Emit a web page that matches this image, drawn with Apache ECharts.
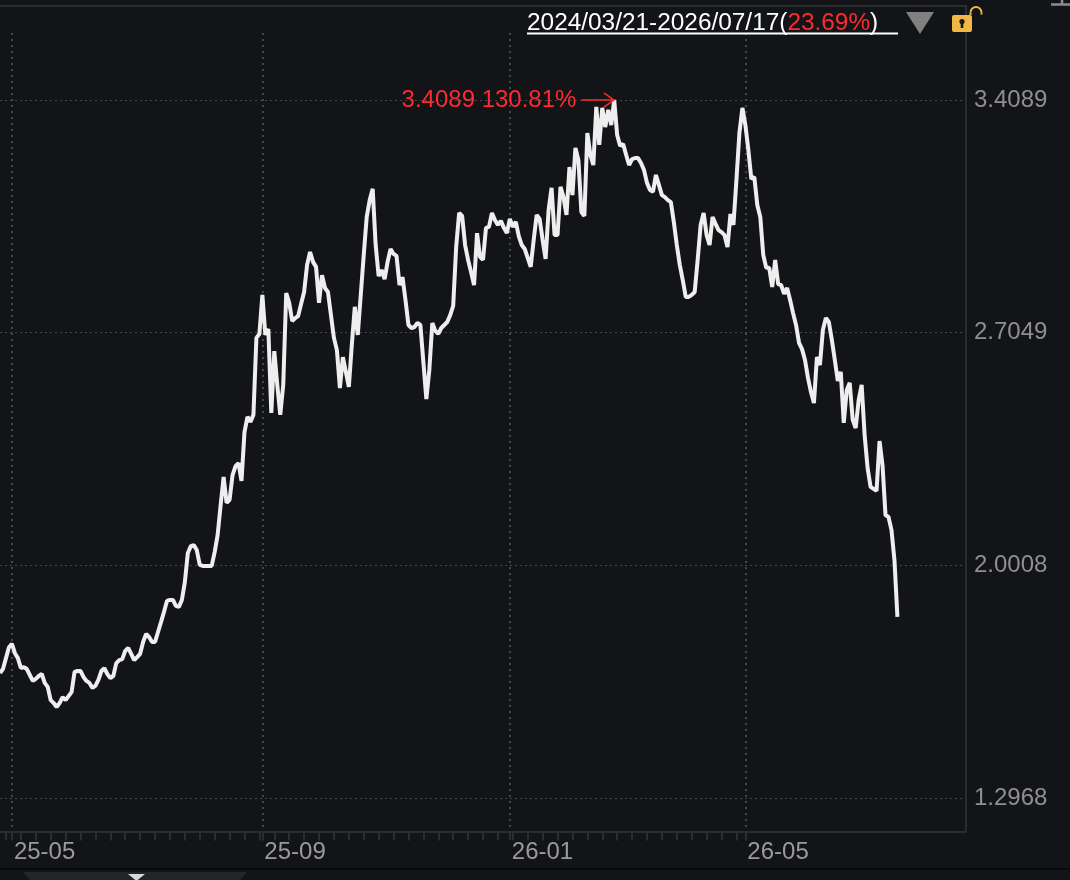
<!DOCTYPE html>
<html>
<head>
<meta charset="utf-8">
<style>html,body{margin:0;padding:0;background:#131417}#c{width:1070px;height:880px}</style>
<script src="https://cdn.jsdelivr.net/npm/echarts@6/dist/echarts.min.js"></script>
</head>
<body>
<div id="c"></div>
<script>
const prices = [
1.675,1.687,1.720,1.753,1.763,1.735,1.720,1.690,1.693,1.687,
1.669,1.651,1.657,1.666,1.672,1.645,1.633,1.593,1.584,1.572,
1.584,1.602,1.593,1.605,1.617,1.678,1.681,1.681,1.663,1.651,
1.645,1.630,1.636,1.654,1.681,1.690,1.672,1.660,1.666,1.705,
1.714,1.717,1.742,1.751,1.733,1.714,1.723,1.733,1.769,1.793,
1.784,1.769,1.769,1.799,1.829,1.860,1.893,1.896,1.896,1.878,
1.875,1.896,1.950,2.038,2.059,2.062,2.047,2.002,1.999,1.999,
1.999,1.999,2.041,2.093,2.183,2.268,2.190,2.199,2.274,2.301,
2.310,2.256,2.404,2.450,2.435,2.456,2.689,2.701,2.819,2.698,
2.716,2.462,2.649,2.547,2.456,2.547,2.825,2.795,2.740,2.749,
2.755,2.792,2.828,2.910,2.949,2.919,2.904,2.795,2.879,2.840,
2.828,2.758,2.689,2.652,2.537,2.631,2.586,2.541,2.668,2.783,
2.698,2.819,2.940,3.055,3.106,3.140,2.970,2.876,2.895,2.867,
2.919,2.958,2.943,2.937,2.849,2.873,2.804,2.728,2.719,2.722,
2.734,2.728,2.616,2.504,2.592,2.734,2.710,2.701,2.719,2.728,
2.737,2.758,2.786,2.964,3.067,3.058,2.970,2.925,2.888,2.849,
3.006,2.934,2.925,3.022,3.025,3.067,3.046,3.031,3.043,3.022,
3.006,3.049,3.025,3.040,2.997,2.970,2.958,2.931,2.904,2.985,
3.061,3.049,2.985,2.928,3.076,3.143,3.000,3.000,3.146,3.115,
3.061,3.206,3.121,3.264,3.227,3.070,3.058,3.309,3.243,3.212,
3.388,3.273,3.385,3.327,3.379,3.333,3.4089,3.303,3.270,3.276,
3.243,3.212,3.230,3.233,3.233,3.218,3.197,3.158,3.137,3.131,
3.182,3.152,3.121,3.115,3.106,3.100,3.040,2.970,2.910,2.864,
2.813,2.813,2.819,2.828,2.925,3.031,3.067,3.000,2.970,3.055,
3.034,3.015,3.009,3.000,2.964,3.064,3.031,3.167,3.309,3.385,
3.333,3.258,3.170,3.176,3.091,3.055,2.940,2.901,2.901,2.843,
2.925,2.852,2.849,2.822,2.840,2.804,2.764,2.728,2.674,2.655,
2.622,2.568,2.525,2.492,2.631,2.607,2.713,2.749,2.737,2.683,
2.622,2.559,2.586,2.432,2.531,2.553,2.441,2.416,2.501,2.547,
2.395,2.295,2.238,2.232,2.226,2.377,2.304,2.153,2.147,2.108,
2.017,1.845
];
const slotCount = 325;
const monthSlots = [4, 88, 171, 250];
const monthLabels = ['25-05', '25-09', '26-01', '26-05'];
const yTicks = [1.2968, 2.0008, 2.7049, 3.4089];
const peakSlot = 206;
const peakValue = 3.4089;
const peakText = '3.4089 130.81%';
const rangeText = '2024/03/21-2026/07/17(';
const rangePct = '23.69%';

const categories = [];
for (let i = 0; i < slotCount; i++) {
  const m = monthSlots.indexOf(i);
  categories.push(m >= 0 ? monthLabels[m] : String(i));
}
const isMonth = i => monthSlots.indexOf(i) >= 0;
const lastMonth = monthSlots[monthSlots.length - 1];
const FONT = '"Liberation Sans", Arial, sans-serif';
const BORDER = '#2b2c2e';
const DOT = '#45474b';

const chart = echarts.init(document.getElementById('c'), null, {renderer: 'canvas'});
chart.setOption({
  animation: false,
  backgroundColor: '#131417',
  grid: {left: 0, width: 966, top: 33, height: 798.5, containLabel: false},
  xAxis: {
    type: 'category',
    data: categories,
    boundaryGap: false,
    axisLine: {show: true, lineStyle: {color: BORDER, width: 2}},
    axisTick: {
      show: true, length: 9, inside: false,
      interval: i => (i % 5 === 2 && i < lastMonth) || isMonth(i),
      lineStyle: {color: BORDER, width: 2}
    },
    axisLabel: {
      show: true, interval: i => isMonth(i), hideOverlap: false,
      align: 'left', margin: 9, padding: [0, 0, 0, 2],
      color: '#9a9a9a', fontSize: 24, fontFamily: FONT
    },
    splitLine: {
      show: true, interval: i => isMonth(i),
      lineStyle: {color: DOT, type: [2, 4], width: 2}
    }
  },
  yAxis: {
    type: 'value',
    position: 'right',
    min: 1.1954,
    max: 3.6116,
    axisLine: {show: true, onZero: false, lineStyle: {color: BORDER, width: 2}},
    axisTick: {show: false, customValues: yTicks},
    axisLabel: {
      customValues: yTicks, margin: 8, color: '#8f8f8f', fontSize: 24, fontFamily: FONT,
      formatter: v => v.toFixed(4)
    },
    splitLine: {show: true, lineStyle: {color: DOT, type: [2, 3], width: 1}}
  },
  series: [{
    type: 'line',
    data: prices,
    symbol: 'none',
    smooth: false,
    lineStyle: {color: '#eeeeee', width: 4, join: 'bevel', cap: 'butt'},
    silent: true,
    markLine: {
      silent: true,
      animation: false,
      symbol: ['none', 'path://M0,0 L10,10 L9,11.5 L0,2.5 L-9,11.5 L-10,10 Z'],
      symbolSize: [15, 12],
      symbolOffset: [[0, 0], [0, 5]],
      lineStyle: {color: '#ff2a2f', width: 1.5, type: 'solid'},
      label: {
        show: true, position: 'start', distance: 5, formatter: peakText,
        color: '#ff2a2f', fontSize: 24, fontFamily: FONT
      },
      data: [[{coord: [peakSlot - 11, peakValue]}, {coord: [peakSlot, peakValue]}]]
    }
  }],
  graphic: [
    {type: 'line', z: 5, shape: {x1: 0, y1: 6, x2: 967, y2: 6}, style: {stroke: BORDER, lineWidth: 2}},
    {type: 'line', z: 5, shape: {x1: 966, y1: 6, x2: 966, y2: 33}, style: {stroke: BORDER, lineWidth: 2}},
    {type: 'text', z: 10, left: 527, top: 11, style: {
      rich: {
        w: {fill: '#ffffff', fontSize: 24.4, fontFamily: FONT},
        r: {fill: '#ff2a2f', fontSize: 24.4, fontFamily: FONT}
      },
      text: '{w|' + rangeText + '}{r|' + rangePct + '}{w|)}'
    }},
    {type: 'line', z: 10, shape: {x1: 527, y1: 33.5, x2: 898, y2: 33.5}, style: {stroke: '#ffffff', lineWidth: 2}},
    {type: 'polygon', z: 10, shape: {points: [[906, 12], [934, 12], [920, 34]]}, style: {fill: '#808080'}},
    {type: 'rect', z: 10, shape: {x: 952, y: 15, width: 20, height: 17, r: 2}, style: {fill: '#f1b845'}},
    {type: 'circle', z: 11, shape: {cx: 962, cy: 21.5, r: 2.6}, style: {fill: '#1a1a1a'}},
    {type: 'rect', z: 11, shape: {x: 960.7, y: 21.5, width: 2.6, height: 6.5}, style: {fill: '#1a1a1a'}},
    {type: 'arc', z: 10, shape: {cx: 976, cy: 12.5, r: 5.5, startAngle: Math.PI, endAngle: 0, clockwise: true},
      style: {stroke: '#f1b845', lineWidth: 2, fill: null}},
    {type: 'line', z: 10, shape: {x1: 970.5, y1: 12.5, x2: 970.5, y2: 15}, style: {stroke: '#f1b845', lineWidth: 2}},
    {type: 'line', z: 10, shape: {x1: 981.5, y1: 12.5, x2: 981.5, y2: 14.5}, style: {stroke: '#f1b845', lineWidth: 2}},
    {type: 'line', z: 5, shape: {x1: 1051, y1: 4.5, x2: 1070, y2: 4.5}, style: {stroke: '#8d8d8d', lineWidth: 2.5}},
    {type: 'line', z: 5, shape: {x1: 1062, y1: 0, x2: 1062, y2: 4}, style: {stroke: '#8d8d8d', lineWidth: 2.5}},
    {type: 'line', z: 5, shape: {x1: 0, y1: 869, x2: 1070, y2: 869}, style: {stroke: '#000000', lineWidth: 1}},
    {type: 'polygon', z: 5, shape: {points: [[23, 872], [247, 872], [240, 880], [30, 880]]}, style: {fill: '#22252a'}},
    {type: 'polygon', z: 6, shape: {points: [[128, 874], [145, 874], [136.5, 881]]}, style: {fill: '#d8d8d8'}}
  ]
});
</script>
</body>
</html>
